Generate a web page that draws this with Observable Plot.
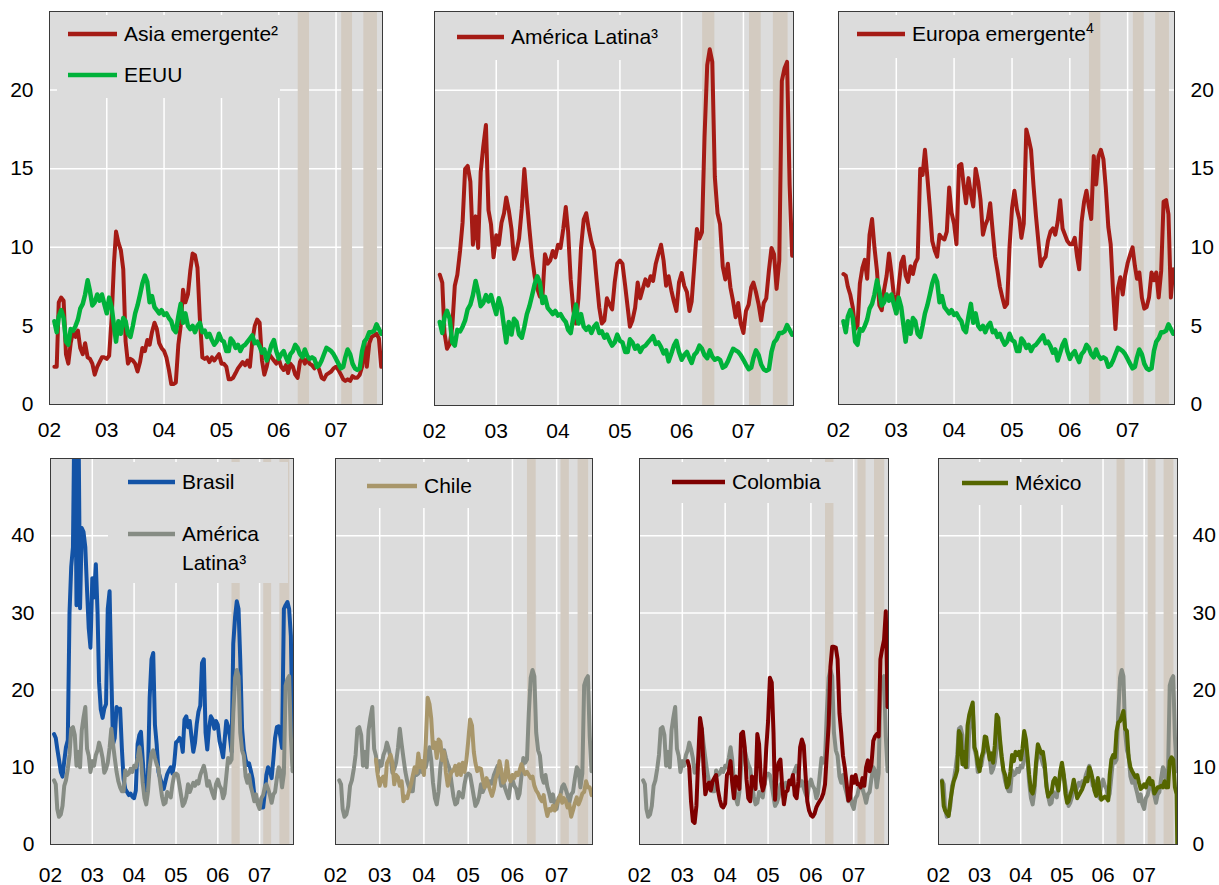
<!DOCTYPE html>
<html>
<head>
<meta charset="utf-8">
<script src="https://cdn.jsdelivr.net/npm/d3@7"></script>
<script src="https://cdn.jsdelivr.net/npm/@observablehq/plot@0.6"></script>
<style>
  html, body { margin: 0; padding: 0; background: #ffffff; }
  body { width: 1219px; height: 885px; position: relative; overflow: hidden; font-family: "Liberation Sans", Arial, sans-serif; }
  .panel { position: absolute; }
</style>
</head>
<body>
<script>
// ---------- DATA (half-monthly observations: 1st and 16th of each month, from Feb 2002) ----------
const tickYears = [2002, 2003, 2004, 2005, 2006, 2007];
const gridYears = [2003, 2004, 2005, 2006, 2007];

const asiaEmergente = [2.4,2.4,6.5,6.8,6.6,3.2,2.6,3.9,4.7,4.3,
 4.7,3.6,3.2,3.9,3.0,2.9,2.6,1.9,2.4,2.7,
 3.0,3.0,2.9,3.1,5.5,9.0,11.0,10.3,9.8,8.6,
 4.0,2.6,2.9,2.8,2.6,2.1,2.7,3.6,3.4,4.1,
 3.8,4.6,5.2,4.8,3.9,3.6,3.4,3.0,2.2,1.3,
 1.3,1.4,3.8,5.0,7.3,6.5,7.0,8.5,9.6,9.5,
 8.7,5.5,3.0,2.9,3.0,2.7,3.0,2.8,3.0,3.2,
 2.6,2.6,2.4,1.6,1.6,1.7,2.0,2.3,2.5,2.7,
 2.5,2.8,2.4,4.0,5.0,5.4,5.2,2.8,1.9,2.4,
 3.2,3.0,2.8,2.6,2.9,2.4,2.2,2.5,2.0,2.6,
 2.4,1.9,1.7,2.7,3.0,2.6,2.9,2.6,2.5,2.3,
 2.6,2.2,1.7,1.6,1.9,2.0,2.1,2.3,2.4,2.2,
 1.9,1.6,1.5,1.6,1.5,1.8,1.7,1.7,1.9,2.4,
 4.0,2.4,3.9,4.3,4.4,4.5,4.2,2.4];

const eeuu = [5.3,4.6,5.6,6.0,5.5,4.0,3.8,4.8,4.7,5.0,
 5.4,6.1,6.4,7.0,7.9,7.2,6.3,6.5,7.0,6.6,
 7.0,6.4,5.8,6.8,6.2,5.0,4.0,5.3,4.5,5.5,
 5.3,4.5,4.3,5.0,5.8,6.3,7.0,7.7,8.2,7.8,
 6.5,6.9,6.2,6.0,5.8,6.0,5.7,5.8,5.5,5.3,
 4.8,4.6,5.6,6.4,5.2,5.8,5.0,4.8,5.0,4.6,
 5.0,5.2,4.6,4.7,4.3,4.5,4.1,3.8,4.0,4.5,
 4.1,4.0,3.4,3.4,4.2,4.0,3.6,3.8,3.4,3.7,
 3.8,4.0,4.2,4.4,3.9,4.0,3.7,3.3,3.5,2.8,
 3.3,3.8,4.1,3.4,2.9,3.2,3.4,3.0,2.7,3.2,
 3.4,3.8,3.6,3.2,3.0,3.5,3.1,2.9,3.0,2.9,
 2.4,2.5,2.8,3.2,3.6,3.5,3.4,3.2,2.9,2.6,
 2.3,2.4,3.0,3.5,3.2,2.6,2.3,2.2,2.3,3.4,
 4.0,4.2,4.6,4.6,4.7,5.1,4.8,4.5];

const americaLatina = [8.3,7.8,4.6,3.6,3.9,5.0,7.6,8.3,9.8,11.6,
 15.0,15.2,14.2,10.2,12.0,10.0,14.8,16.4,17.8,12.4,
 11.5,9.4,10.8,10.2,11.6,12.2,13.2,12.4,11.2,9.3,
 9.8,10.6,12.5,15.0,13.0,11.2,9.4,8.2,7.4,6.9,
 6.9,9.6,9.0,9.2,9.8,9.4,10.2,10.0,11.2,12.6,
 11.0,8.0,6.0,5.2,6.8,10.0,11.8,12.2,11.2,10.4,
 9.8,8.0,6.2,5.2,5.4,6.8,6.4,6.1,7.8,9.0,
 9.2,9.0,7.6,6.2,5.0,5.4,6.2,7.8,6.8,7.4,
 8.0,7.6,8.2,7.9,9.0,9.6,10.2,9.2,7.6,8.2,
 7.3,6.6,6.0,7.8,8.4,7.6,7.2,6.0,6.6,8.8,
 11.2,10.6,11.0,17.0,21.6,22.6,21.8,14.5,12.2,11.5,
 8.8,8.0,9.0,7.5,6.6,5.6,6.5,5.2,4.6,6.0,
 6.4,7.5,7.8,7.2,6.4,5.4,6.5,6.8,8.6,10.0,
 9.6,7.4,9.2,20.6,21.4,21.8,14.0,9.5];

const europaEmergente = [8.3,8.2,7.5,7.0,6.2,4.8,5.0,7.7,8.7,9.2,
 8.0,10.8,11.8,10.0,8.5,6.3,6.0,7.3,8.2,9.6,
 8.4,7.0,5.8,7.5,9.0,9.4,8.2,7.8,8.8,8.3,
 9.0,9.3,15.0,14.6,16.2,14.5,12.5,10.4,9.8,9.4,
 10.8,10.6,10.5,11.0,13.8,12.2,11.5,10.2,15.2,15.3,
 14.0,12.8,14.4,13.4,12.6,15.0,14.2,13.0,10.8,11.4,
 11.8,12.8,11.0,9.4,8.5,7.5,6.8,6.2,6.4,10.0,
 12.5,13.6,12.4,11.8,10.6,11.5,17.5,16.9,16.2,14.0,
 12.0,10.4,8.8,9.2,9.4,10.4,11.0,11.2,10.8,11.6,
 13.0,11.2,10.8,10.4,10.2,10.2,10.6,9.4,8.6,11.6,
 12.9,13.6,12.6,11.8,15.8,14.0,15.8,16.2,15.6,13.8,
 11.3,10.2,7.2,4.8,7.4,8.1,7.0,8.2,9.0,9.5,
 10.0,8.8,8.0,8.4,6.8,6.1,6.2,6.8,8.4,7.9,
 8.4,6.8,8.5,12.9,13.0,12.1,6.8,8.6];

const brasil = [14.3,13.8,12.4,11.0,9.4,8.8,10.8,12.6,13.5,30.0,
 36.0,38.5,60.0,31.0,58.0,30.6,41.0,40.5,38.5,33.0,
 28.0,25.5,34.5,32.0,36.3,30.0,21.0,17.5,16.4,17.6,
 18.2,30.5,32.8,22.0,13.0,13.8,17.8,17.4,17.6,12.5,
 8.5,7.2,6.8,6.4,6.6,6.2,6.0,7.0,13.0,14.2,
 14.6,11.0,8.0,6.0,9.0,19.0,24.0,24.8,15.5,13.0,
 9.4,8.6,7.8,7.2,8.2,9.1,9.6,10.0,9.2,10.4,
 13.2,13.4,13.8,13.3,12.0,16.2,16.6,15.2,16.0,14.0,
 12.0,13.2,15.6,17.2,18.0,23.5,24.0,14.5,12.3,15.0,
 16.6,16.2,15.0,16.0,15.5,13.4,12.4,11.3,13.4,16.0,
 15.3,14.0,12.0,26.0,29.5,31.5,30.5,24.0,15.0,12.3,
 11.0,10.3,10.5,9.6,8.5,6.4,6.0,5.5,5.0,4.8,
 4.8,6.8,9.0,10.0,9.5,8.6,11.0,13.8,15.2,15.3,
 14.0,12.5,30.5,31.0,31.4,30.5,27.0,13.5];

const chileStart = 20; // first observation: Dec 2002
const chile = [11.0,9.0,7.6,8.5,8.8,7.6,10.5,11.0,11.6,10.6,
 7.8,9.0,8.7,7.6,8.2,5.6,6.2,6.0,7.0,7.8,
 8.9,10.0,9.3,11.8,10.0,10.8,9.0,13.0,19.0,18.2,
 16.4,12.5,13.2,11.2,13.6,13.3,10.9,12.0,9.3,7.6,
 8.8,9.4,9.6,10.2,9.0,10.4,9.0,10.6,9.4,10.8,
 13.4,16.2,15.4,12.0,10.6,9.5,9.9,9.8,8.4,7.4,
 8.6,7.8,7.0,6.3,7.2,8.6,9.2,10.8,9.6,8.0,
 8.3,10.8,8.8,8.2,9.0,8.6,9.3,9.0,9.6,10.4,
 9.6,9.1,9.4,9.0,8.6,8.8,7.6,7.0,6.6,6.0,
 5.6,6.4,4.8,3.7,4.6,4.4,5.0,4.4,5.2,5.8,
 6.4,5.4,6.0,5.7,4.8,5.2,3.6,4.4,5.4,6.1,
 5.2,5.8,6.6,6.8,8.2,7.4,7.4,6.4];

const colombiaStart = 25; // first observation: mid-Feb 2003
const colombia = [10.8,10.0,5.6,3.0,2.8,5.0,11.0,16.4,15.0,10.0,
 6.5,7.4,8.0,7.0,8.2,8.6,9.0,7.0,5.8,5.0,
 4.8,5.3,9.0,9.4,10.8,8.0,6.0,8.8,8.4,7.2,
 14.3,14.6,12.6,8.4,6.0,5.6,8.8,8.6,7.2,14.3,
 13.0,8.2,7.0,7.8,12.4,16.0,21.6,21.0,14.5,5.8,
 9.4,10.6,11.0,7.5,5.2,6.8,7.0,8.3,7.8,9.0,
 6.4,6.0,8.2,12.6,13.6,12.8,9.0,5.6,4.4,3.8,
 3.6,4.0,4.8,5.2,5.6,6.0,6.6,7.8,11.6,15.5,
 23.0,25.6,25.6,25.5,24.0,17.0,14.5,11.5,10.0,7.9,
 5.7,6.0,8.8,8.0,9.0,7.8,7.8,7.4,8.6,7.6,
 10.0,10.9,9.5,10.4,13.4,14.0,14.3,14.0,24.0,25.4,
 26.5,30.2,17.8];

const mexico = [8.2,5.0,4.4,4.0,3.7,5.6,7.0,8.2,8.8,9.6,
 14.7,14.2,10.4,12.0,10.0,15.4,16.8,17.6,18.4,12.6,
 12.0,10.4,9.5,11.2,12.0,14.0,13.9,12.4,11.0,11.8,
 10.6,12.8,16.8,16.4,13.6,11.4,9.6,9.0,7.4,7.8,
 9.4,11.6,10.8,12.0,11.6,12.0,11.0,12.4,14.7,13.6,
 11.5,9.0,7.0,6.6,7.6,10.6,13.0,12.4,11.8,12.0,
 10.4,7.5,6.2,6.6,6.8,8.2,8.6,7.8,7.0,9.4,
 10.6,9.2,6.6,5.4,5.6,6.4,7.2,8.4,7.2,6.0,
 6.4,6.8,7.2,7.8,8.6,8.2,10.0,9.4,8.4,7.0,
 6.3,8.6,7.0,5.8,6.0,6.2,6.0,5.7,9.0,11.0,
 11.6,11.3,14.7,15.8,16.0,16.6,17.3,15.0,14.7,11.3,
 10.0,9.5,9.1,8.7,9.0,8.0,7.2,7.4,7.8,7.4,
 8.2,8.6,7.8,8.2,6.6,7.0,7.4,7.4,7.6,7.4,
 8.2,7.4,7.4,10.8,11.3,11.0,7.4,6.5];
const mexicoTailDate = "2007-10-22";
const mexicoTailValue = 0;

// turbulence periods (shaded)
const bandStart = ["2006-05-05", "2007-02-06", "2007-06-27"];
const bandEnd   = ["2006-07-16", "2007-04-16", "2007-09-22"];

// ---------- helpers ----------
const xDomain = [new Date(Date.UTC(2002, 0, 1)), new Date(Date.UTC(2007, 9, 24))];
const yearTicks = tickYears.map(y => new Date(Date.UTC(y, 0, 1)));
const gridDates = gridYears.map(y => new Date(Date.UTC(y, 0, 1)));
const bands = bandStart.map((s, i) => ({start: new Date(s), end: new Date(bandEnd[i])}));
function obsDate(i) { return new Date(Date.UTC(2002, 1 + Math.floor(i / 2), i % 2 ? 16 : 1)); }
function rows(values, start = 0) { return values.map((v, k) => ({date: obsDate(start + k), value: v})); }

const BG = "#dcdcdc", BAND = "#d3cbc1";
const RED = "#a51b15", GREEN = "#00b23a", BLUE = "#1353a6", GREY = "#868c84",
      TAN = "#a8966a", DARKRED = "#7e0000", OLIVE = "#556600";
const FONT = '"Liberation Sans", Arial, sans-serif';

const asiaRows = rows(asiaEmergente), eeuuRows = rows(eeuu), amlatRows = rows(americaLatina),
      europaRows = rows(europaEmergente), brasilRows = rows(brasil),
      chileRows = rows(chile, chileStart), colombiaRows = rows(colombia, colombiaStart),
      mexicoRows = rows(mexico).concat([{date: new Date(mexicoTailDate), value: mexicoTailValue}]);

function panel(cfg) {
  const div = document.createElement("div");
  div.className = "panel";
  div.style.left = cfg.left + "px";
  div.style.top = cfg.top + "px";
  const fx0 = cfg.frame[0] - cfg.left, fx1 = cfg.frame[1] - cfg.left;
  const fy0 = cfg.frame[2] - cfg.top, fy1 = cfg.frame[3] - cfg.top;
  const L = cfg.legend;

  const legendBox = () => {
    const g = d3.create("svg:g");
    g.append("rect")
      .attr("x", L.box[0] - cfg.left).attr("y", L.box[2] - cfg.top)
      .attr("width", L.box[1] - L.box[0]).attr("height", L.box[3] - L.box[2])
      .attr("fill", BG);
    return g.node();
  };
  const legendItems = () => {
    const g = d3.create("svg:g").attr("text-anchor", "start");
    for (const it of L.items) {
      const y = it.y - cfg.top;
      g.append("line")
        .attr("x1", L.line[0] - cfg.left).attr("x2", L.line[1] - cfg.left)
        .attr("y1", y).attr("y2", y)
        .attr("stroke", it.color).attr("stroke-width", 4.5);
      const t = g.append("text")
        .attr("x", L.textX - cfg.left).attr("y", y)
        .attr("text-anchor", "start")
        .attr("fill", "#000").attr("font-size", 21).attr("font-family", FONT);
      it.lines.forEach((ln, j) => {
        const ts = t.append("tspan").attr("x", L.textX - cfg.left).attr("dy", j === 0 ? "0.35em" : "29");
        ts.text(ln.text);
        if (ln.sup) ts.append("tspan").attr("font-size", 14).attr("dy", "-8").text(ln.sup);
      });
    }
    return g.node();
  };

  const marks = [
    Plot.frame({fill: BG}),
    Plot.ruleX(gridDates, {stroke: "#ffffff", strokeWidth: 1.5}),
    Plot.ruleY(cfg.yTicks.filter(d => d > 0), {stroke: "#ffffff", strokeWidth: 1.5}),
    Plot.rect(bands, {x1: "start", x2: "end", fill: BAND}),
    legendBox,
    ...cfg.series.map(s => Plot.line(s.data, {x: "date", y: "value", stroke: s.color,
        strokeWidth: s.width || 4, strokeLinejoin: "round", clip: true})),
    legendItems,
    Plot.frame({stroke: "#3a3a3a", strokeWidth: 1})
  ];

  const chart = Plot.plot({
    width: cfg.width,
    height: cfg.height,
    marginLeft: fx0,
    marginRight: cfg.width - fx1,
    marginTop: fy0,
    marginBottom: cfg.height - fy1,
    style: {fontFamily: FONT, fontSize: "21px", color: "#000", background: "transparent", overflow: "visible"},
    x: {type: "utc", domain: xDomain, ticks: yearTicks, tickFormat: d => d3.utcFormat("%y")(d),
        tickSize: 0, tickPadding: cfg.xPad, label: null},
    y: {domain: [0, cfg.yMax], ticks: cfg.yTicks, tickSize: 0, tickPadding: cfg.yPad || 16,
        label: null, axis: cfg.yAxis},
    marks
  });
  div.appendChild(chart);
  document.body.appendChild(div);
}

const topTicks = [0, 5, 10, 15, 20];
const botTicks = [0, 10, 20, 30, 40];

// ---------- top row ----------
panel({
  left: 0, top: 0, width: 415, height: 440, frame: [49, 382, 11, 404],
  yMax: 25, yTicks: topTicks, yAxis: "left", xPad: 18,
  series: [{data: asiaRows, color: RED}, {data: eeuuRows, color: GREEN, width: 4.5}],
  legend: {box: [57, 280, 15, 98], line: [68, 117], textX: 124, items: [
    {y: 34, color: RED, lines: [{text: "Asia emergente²"}]},
    {y: 75, color: GREEN, lines: [{text: "EEUU"}]}
  ]}
});
panel({
  left: 415, top: 0, width: 400, height: 440, frame: [434, 793, 11, 405],
  yMax: 25, yTicks: topTicks, yAxis: null, xPad: 18,
  series: [{data: amlatRows, color: RED}, {data: eeuuRows, color: GREEN, width: 4.5}],
  legend: {box: [442, 665, 15, 60], line: [457, 504], textX: 511, items: [
    {y: 37, color: RED, lines: [{text: "América Latina³"}]}
  ]}
});
panel({
  left: 815, top: 0, width: 404, height: 440, frame: [838, 1174, 11, 404],
  yMax: 25, yTicks: topTicks, yAxis: "right", xPad: 18,
  series: [{data: europaRows, color: RED}, {data: eeuuRows, color: GREEN, width: 4.5}],
  legend: {box: [845, 1086, 15, 58], line: [857, 905], textX: 912, items: [
    {y: 34, color: RED, lines: [{text: "Europa emergente", sup: "4"}]}
  ]}
});

// ---------- bottom row ----------
panel({
  left: 0, top: 445, width: 313, height: 440, frame: [50, 293, 458, 844],
  yMax: 50, yTicks: botTicks, yAxis: "left", xPad: 23,
  series: [{data: brasilRows, color: BLUE}, {data: amlatRows, color: GREY}],
  legend: {box: [108, 288, 462, 583], line: [128, 175], textX: 182, items: [
    {y: 482, color: BLUE, lines: [{text: "Brasil"}]},
    {y: 534, color: GREY, lines: [{text: "América"}, {text: "Latina³"}]}
  ]}
});
panel({
  left: 313, top: 445, width: 300, height: 440, frame: [335, 592, 458, 844],
  yMax: 50, yTicks: botTicks, yAxis: null, xPad: 23,
  series: [{data: amlatRows, color: GREY}, {data: chileRows, color: TAN}],
  legend: {box: [350, 505, 462, 508], line: [367, 417], textX: 424, items: [
    {y: 486, color: TAN, lines: [{text: "Chile"}]}
  ]}
});
panel({
  left: 613, top: 445, width: 300, height: 440, frame: [639, 888, 458, 844],
  yMax: 50, yTicks: botTicks, yAxis: null, xPad: 23,
  series: [{data: amlatRows, color: GREY}, {data: colombiaRows, color: DARKRED}],
  legend: {box: [655, 834, 462, 503], line: [672, 725], textX: 732, items: [
    {y: 482, color: DARKRED, lines: [{text: "Colombia"}]}
  ]}
});
panel({
  left: 913, top: 445, width: 306, height: 440, frame: [938, 1177, 458, 844],
  yMax: 50, yTicks: botTicks, yAxis: "right", xPad: 23, yPad: 15,
  series: [{data: amlatRows, color: GREY}, {data: mexicoRows, color: OLIVE}],
  legend: {box: [950, 1097, 462, 505], line: [962, 1008], textX: 1015, items: [
    {y: 483, color: OLIVE, lines: [{text: "México"}]}
  ]}
});
</script>
</body>
</html>
